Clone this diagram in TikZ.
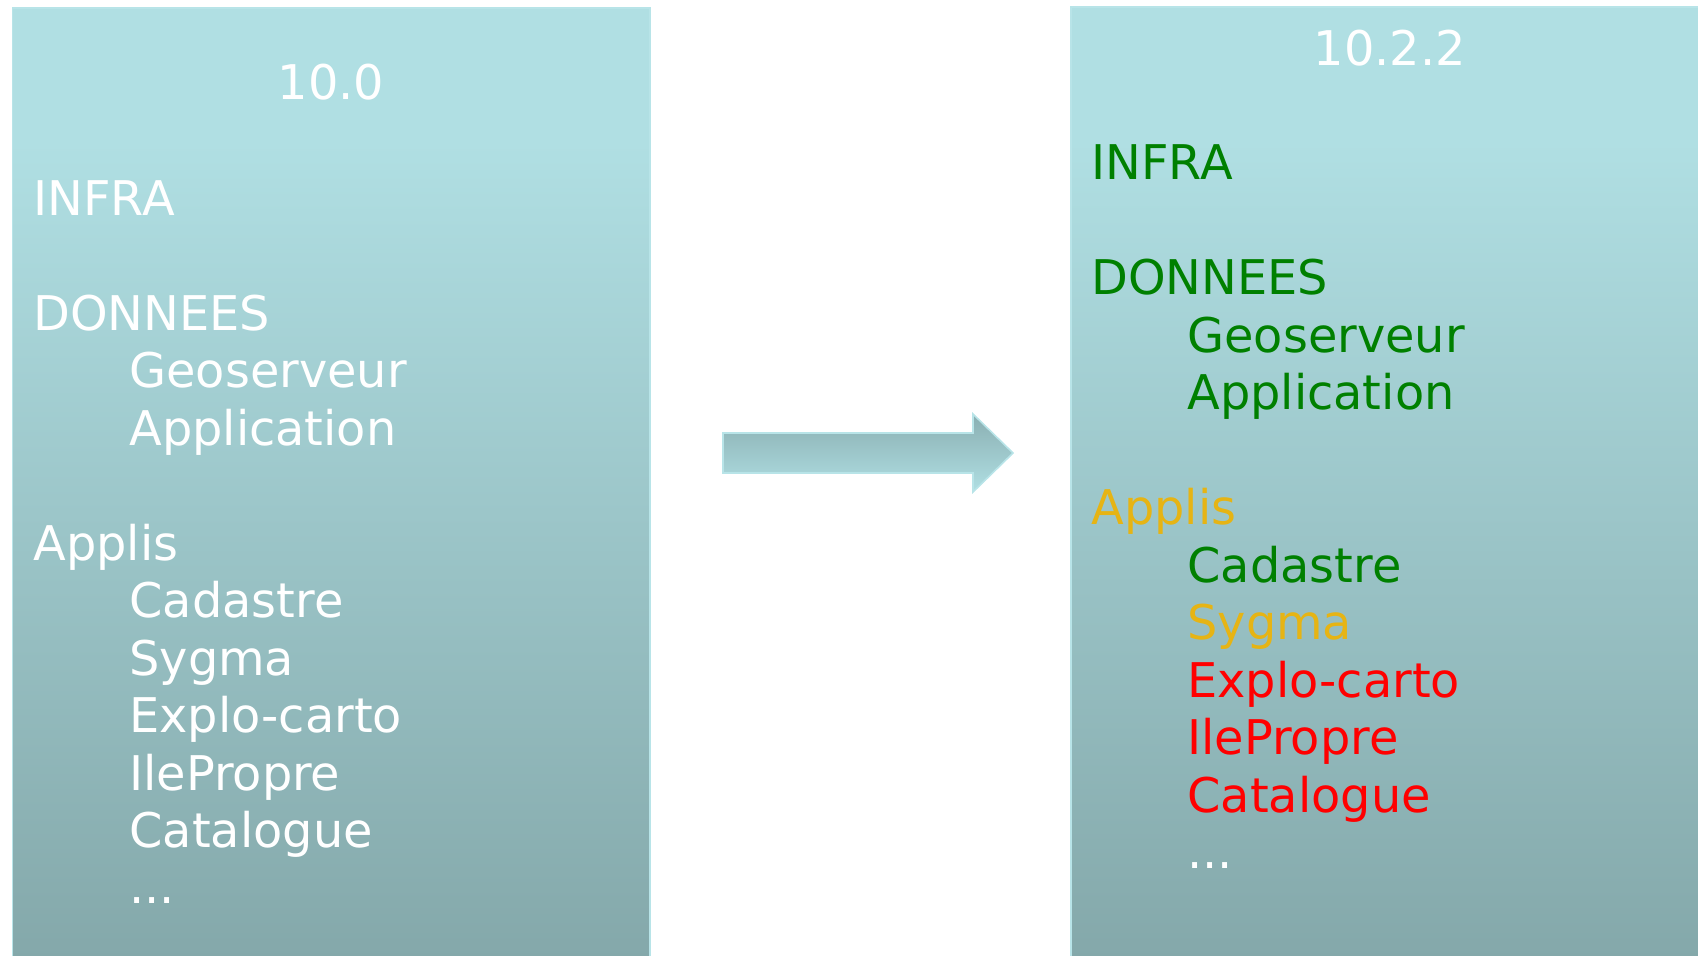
\documentclass[tikz,border=0pt]{standalone}
\usepackage{fontspec}
\setmainfont{DejaVu Sans}
\definecolor{paneltop}{HTML}{B0DFE3}
\definecolor{panelbot}{HTML}{84A8AA}
\definecolor{arrowdark}{HTML}{8AAFB2}
\definecolor{arrowedge}{HTML}{B8E4E8}
\definecolor{okgreen}{HTML}{008000}
\definecolor{wipgold}{HTML}{E6B414}
\definecolor{kored}{HTML}{FF0000}
\pgfdeclareverticalshading{panelfade}{100bp}{color(0bp)=(panelbot); color(25bp)=(panelbot); color(68bp)=(paneltop); color(100bp)=(paneltop)}

\begin{document}
\begin{tikzpicture}[x=0.5pt, y=-0.5pt,
    panel/.style={draw=arrowedge, line width=0.8pt, shading=panelfade},
    item/.style={anchor=base west, inner sep=0pt, text=white, font=\fontsize{23.9}{28}\selectfont},
    title/.style={item, anchor=base},
    ok/.style={text=okgreen},
    wip/.style={text=wipgold},
    ko/.style={text=kored}
  ]
    \useasboundingbox (0,0) rectangle (1698,955);

    % Panels
    \shade[panel] (12.5,8) rectangle (650,960);
    \shade[panel] (1071,7) rectangle (1702,960);

    % Old version
    \node[title] (old_ver) at (331,99) {10.0};
    \node[item] (old_infra) at (33,215) {INFRA};
    \node[item] (old_data) at (33,330) {DONNEES};
    \node[item] (old_geo) at (129,387.5) {Geoserveur};
    \node[item] (old_app) at (129,445) {Application};
    \node[item] (old_applis) at (33,560) {Applis};
    \node[item] (old_cad) at (129,617.5) {Cadastre};
    \node[item] (old_syg) at (129,675) {Sygma};
    \node[item] (old_explo) at (129,732.5) {Explo-carto};
    \node[item] (old_ile) at (129,790) {IlePropre};
    \node[item] (old_cat) at (129,847.5) {Catalogue};
    \node[item] (old_more) at (129,903) {...};

    % New version
    \node[title] (new_ver) at (1390,65.5) {10.2.2};
    \node[item, ok] (new_infra) at (1091,179.5) {INFRA};
    \node[item, ok] (new_data) at (1091,294.5) {DONNEES};
    \node[item, ok] (new_geo) at (1187,352) {Geoserveur};
    \node[item, ok] (new_app) at (1187,409.5) {Application};
    \node[item, wip] (new_applis) at (1091,524.5) {Applis};
    \node[item, ok] (new_cad) at (1187,582) {Cadastre};
    \node[item, wip] (new_syg) at (1187,639.5) {Sygma};
    \node[item, ko] (new_explo) at (1187,697) {Explo-carto};
    \node[item, ko] (new_ile) at (1187,754.5) {IlePropre};
    \node[item, ko] (new_cat) at (1187,812) {Catalogue};
    \node[item] (new_more) at (1187,868) {...};

    % Migration arrow
    \shade[top color=arrowdark, bottom color=paneltop, draw=arrowedge, line width=0.8pt]
      (723,433) -- (973,433) -- (973,414) -- (1013,453) -- (973,492) -- (973,473) -- (723,473) -- cycle;

\end{tikzpicture}
\end{document}
